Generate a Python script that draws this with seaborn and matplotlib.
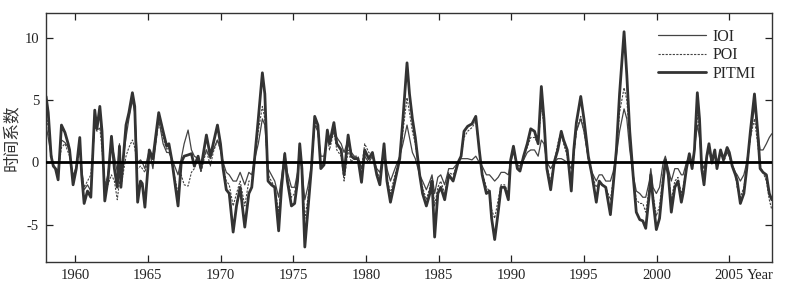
import numpy as np
import pandas as pd
import matplotlib
matplotlib.use('Agg')
import matplotlib.pyplot as plt
import seaborn as sns

# time axis (decimal years) and the three time-coefficient series
years = [1958.0, 1958.15, 1958.35, 1958.5, 1958.65, 1958.83, 1959.06, 1959.3, 1959.52, 1959.62,
         1959.86, 1960.08, 1960.32, 1960.45, 1960.62, 1960.85, 1961.08, 1961.35, 1961.5, 1961.7,
         1961.85, 1962.04, 1962.25, 1962.5, 1962.7, 1962.9, 1963.05, 1963.15, 1963.5, 1963.7,
         1963.94, 1964.1, 1964.3, 1964.5, 1964.62, 1964.8, 1965.0, 1965.1, 1965.35, 1965.75,
         1966.05, 1966.3, 1966.45, 1966.65, 1967.08, 1967.3, 1967.5, 1967.77, 1968.0, 1968.2,
         1968.46, 1968.65, 1969.03, 1969.3, 1969.5, 1969.79, 1970.0, 1970.18, 1970.4, 1970.6,
         1970.87, 1971.1, 1971.35, 1971.67, 1971.95, 1972.15, 1972.36, 1972.6, 1972.88, 1973.05,
         1973.27, 1973.5, 1973.73, 1974.0, 1974.2, 1974.42, 1974.6, 1974.88, 1975.1, 1975.3,
         1975.45, 1975.6, 1975.8, 1976.0, 1976.25, 1976.48, 1976.7, 1976.9, 1977.12, 1977.35,
         1977.5, 1977.8, 1978.0, 1978.3, 1978.5, 1978.78, 1979.0, 1979.2, 1979.46, 1979.7,
         1979.92, 1980.2, 1980.45, 1980.75, 1980.96, 1981.25, 1981.45, 1981.69, 1982.0, 1982.33,
         1982.55, 1982.83, 1983.0, 1983.2, 1983.4, 1983.7, 1983.9, 1984.16, 1984.4, 1984.55,
         1984.73, 1984.95, 1985.15, 1985.42, 1985.7, 1986.0, 1986.34, 1986.55, 1986.75, 1987.0,
         1987.3, 1987.56, 1987.8, 1988.0, 1988.29, 1988.5, 1988.65, 1988.86, 1989.1, 1989.3,
         1989.55, 1989.8, 1989.96, 1990.15, 1990.42, 1990.6, 1990.85, 1991.1, 1991.34, 1991.6,
         1991.85, 1992.07, 1992.25, 1992.45, 1992.71, 1992.95, 1993.2, 1993.44, 1993.6, 1993.85,
         1994.13, 1994.3, 1994.48, 1994.78, 1995.0, 1995.3, 1995.55, 1995.85, 1996.05, 1996.25,
         1996.5, 1996.82, 1997.0, 1997.23, 1997.45, 1997.76, 1997.95, 1998.15, 1998.38, 1998.6,
         1998.84, 1999.05, 1999.25, 1999.5, 1999.6, 1999.75, 1999.98, 2000.2, 2000.45, 2000.6,
         2000.8, 2001.01, 2001.25, 2001.47, 2001.7, 2001.82, 2002.05, 2002.25, 2002.44, 2002.6,
         2002.8, 2002.95, 2003.1, 2003.26, 2003.45, 2003.6, 2003.8, 2004.0, 2004.15, 2004.4,
         2004.6, 2004.85, 2005.0, 2005.2, 2005.42, 2005.54, 2005.76, 2006.0, 2006.2, 2006.45,
         2006.73, 2006.95, 2007.12, 2007.32, 2007.55, 2007.75, 2007.92]

pitmi = [5.3, 4.0, 0.5, -0.3, -0.5, -1.4, 3.0, 2.4, 1.5, 1.0,
         -1.8, -0.5, 2.0, -1.0, -3.3, -2.3, -2.8, 4.2, 2.7, 4.5,
         2.5, -3.1, -1.5, 2.1, -0.5, -2.0, 1.3, -2.0, 3.0, 4.0,
         5.6, 4.5, -3.2, -1.5, -1.7, -3.6, -0.5, 1.0, 0.3, 4.0,
         2.5, 1.3, 1.5, 0.2, -3.5, 0.0, 0.5, 0.6, 0.7, -0.3,
         0.5, -0.5, 2.2, 0.5, 1.5, 3.0, 1.5, -0.5, -2.2, -2.5,
         -5.6, -3.5, -2.0, -5.2, -2.5, -2.0, 0.5, 3.5, 7.2, 5.5,
         -1.5, -1.8, -2.0, -5.5, -2.0, 0.7, -1.5, -3.5, -3.3, -1.5,
         1.5, -0.5, -6.8, -4.0, -0.5, 3.7, 3.0, -0.5, -0.2, 2.6,
         1.5, 3.2, 1.5, 1.0, -1.0, 2.2, 0.5, 0.3, 0.3, -1.6,
         1.0, 0.3, 0.8, -1.0, -1.8, 1.5, -1.5, -3.2, -1.5, 0.3,
         3.5, 8.0, 5.5, 3.5, 2.0, -1.0, -2.5, -3.5, -2.5, -1.5,
         -6.0, -2.5, -2.0, -3.0, -1.0, -1.5, 0.0, 0.5, 2.5, 2.9,
         3.1, 3.7, 1.0, -1.0, -2.5, -2.3, -4.5, -6.2, -4.0, -2.0,
         -2.0, -3.0, 0.2, 1.3, -0.5, -0.7, 0.5, 1.5, 2.7, 2.5,
         1.5, 6.1, 3.5, -0.5, -2.2, 0.0, 1.0, 2.5, 1.8, 1.0,
         -2.3, 1.0, 3.2, 5.3, 3.5, 0.5, -1.0, -3.2, -1.5, -1.8,
         -2.0, -4.2, -2.0, 1.0, 5.5, 10.5, 7.0, 2.5, -1.0, -4.0,
         -4.6, -4.7, -5.3, -2.5, -1.0, -3.0, -5.4, -4.5, -1.5, 0.2,
         -1.0, -4.0, -2.0, -1.5, -3.2, -2.5, -0.5, 0.7, -0.5, 1.0,
         5.6, 3.5, -0.5, -1.8, 0.5, 1.5, 0.0, 1.0, -0.5, 1.0,
         0.2, 1.2, 0.8, -0.3, -1.0, -1.5, -3.3, -2.5, -0.5, 2.5,
         5.5, 2.5, -0.5, -0.8, -1.0, -2.5, -3.0]

ioi = [3.0, 2.0, 0.5, -0.2, -0.5, -0.6, 1.8, 1.6, 1.2, 0.8,
       -1.2, -0.3, 1.5, -0.5, -2.2, -1.8, -2.3, 3.5, 2.8, 3.8,
       1.5, -2.0, -1.0, 1.5, 0.5, -0.8, 1.5, -1.0, 2.0, 3.5,
       5.0, 4.0, 0.0, 0.2, 0.0, -0.5, 0.5, 1.0, -0.5, 3.5,
       1.5, 0.8, 0.8, 0.3, -1.0, 0.3, 1.5, 2.6, 1.0, 0.5,
       0.3, -0.3, 1.0, 0.3, 1.0, 1.8, 1.0, 0.0, -0.8, -1.0,
       -1.5, -1.5, -0.8, -1.8, -0.8, -1.0, 0.3, 1.5, 3.5, 3.0,
       -0.5, -1.0, -1.5, -2.8, -1.2, 0.8, -0.8, -2.0, -2.0, -0.8,
       1.5, -0.5, -3.0, -2.0, -0.3, 3.0, 2.5, 0.5, 0.5, 2.0,
       1.5, 2.5, 2.0, 1.5, 0.8, 1.8, 0.8, 0.5, 0.3, -0.5,
       0.5, 0.0, 0.5, -0.5, -0.8, 1.0, -0.5, -1.5, -0.5, 0.5,
       1.5, 3.0, 2.0, 0.8, 0.3, -1.0, -1.5, -2.2, -1.5, -1.0,
       -2.5, -1.2, -1.0, -1.8, -0.5, -0.5, 0.0, 0.3, 0.3, 0.3,
       0.2, 0.5, 0.0, -0.3, -1.0, -1.0, -1.2, -1.5, -1.2, -0.8,
       -0.8, -1.0, 0.0, 0.8, -0.2, -0.3, 0.2, 0.8, 1.0, 1.0,
       0.5, 1.8, 1.5, 0.0, -0.5, 0.0, 0.3, 0.3, 0.2, 0.0,
       -0.5, 0.8, 2.5, 3.5, 2.5, 0.3, -0.8, -1.5, -1.0, -1.0,
       -1.5, -1.5, -0.8, 0.5, 2.5, 4.3, 3.5, 1.0, -1.0, -2.3,
       -2.5, -2.8, -2.8, -1.5, -0.5, -2.0, -2.5, -2.0, 0.0, 0.5,
       -0.5, -1.5, -0.5, -0.5, -1.0, -1.0, 0.0, 0.5, 0.0, 1.0,
       3.0, 2.0, 0.0, -0.5, 0.5, 1.0, 0.3, 0.8, 0.0, 0.8,
       0.3, 0.8, 0.5, -0.2, -0.8, -1.0, -1.5, -1.0, 0.0, 2.0,
       4.5, 2.5, 1.0, 1.0, 1.5, 2.0, 2.3]

poi = [4.0, 2.8, 0.8, -0.2, -0.6, -0.8, 1.2, 1.5, 0.8, 0.5,
       -1.0, -0.5, 1.0, -0.8, -2.0, -1.5, -1.0, 2.8, 2.5, 2.8,
       1.0, -1.5, -1.8, -1.0, -1.5, -3.0, -1.5, -2.0, 0.5, 1.2,
       1.8, 1.2, -0.5, -0.3, -0.5, -0.8, 0.2, 0.8, 0.0, 3.2,
       2.0, 1.0, 1.2, 0.0, -2.5, -1.0, -1.8, -1.9, -0.8, -0.5,
       0.5, -0.8, 1.0, -0.3, 0.8, 1.8, 1.0, -0.3, -1.5, -1.8,
       -3.5, -2.5, -1.5, -3.5, -1.5, -1.5, 0.5, 2.5, 4.5, 3.5,
       -1.0, -1.5, -2.0, -4.0, -1.5, 0.5, -1.2, -2.8, -2.5, -1.0,
       1.0, -1.0, -4.5, -3.0, -0.5, 3.3, 2.5, -0.3, 0.0, 2.0,
       1.0, 2.5, 1.0, 0.5, -1.5, 1.0, 0.0, 0.5, 0.5, -0.5,
       1.5, 0.8, 0.5, -0.8, -1.2, 1.0, -1.2, -2.5, -1.0, 0.3,
       2.5, 5.2, 4.0, 2.5, 1.5, -1.0, -2.0, -3.0, -2.0, -1.2,
       -3.5, -2.0, -1.5, -2.5, -0.8, -1.0, 0.0, 0.5, 2.0, 2.5,
       2.8, 3.3, 1.0, -0.8, -2.0, -2.3, -3.8, -4.5, -3.0, -1.8,
       -1.8, -2.5, 0.2, 1.0, -0.3, -0.5, 0.5, 1.2, 2.0, 2.0,
       1.5, 4.5, 3.0, -0.3, -1.5, 0.0, 1.5, 2.5, 1.5, 0.5,
       -1.5, 0.5, 2.5, 3.7, 2.5, 0.3, -1.0, -2.0, -1.5, -1.8,
       -2.0, -3.0, -1.5, 0.8, 4.0, 6.0, 5.0, 2.0, -1.0, -3.0,
       -3.3, -3.3, -4.0, -2.0, -1.0, -2.5, -4.3, -3.5, -1.0, 0.0,
       -0.8, -3.0, -1.5, -1.2, -2.5, -2.0, -0.3, 0.5, -0.5, 1.0,
       3.8, 2.5, -0.3, -1.0, 0.3, 1.0, -0.2, 0.8, -0.3, 0.8,
       0.0, 0.8, 0.5, -0.3, -1.0, -2.0, -2.8, -2.0, -0.5, 2.0,
       3.5, 1.5, -0.3, -0.8, -1.5, -3.0, -3.8]

df = pd.DataFrame({'year': years, 'IOI': ioi, 'POI': poi, 'PITMI': pitmi})

sns.set_style('ticks')
plt.rcParams['font.family'] = ['Liberation Serif', 'Noto Sans CJK SC']
plt.rcParams['xtick.direction'] = 'in'
plt.rcParams['ytick.direction'] = 'in'
plt.rcParams['axes.unicode_minus'] = False

fig = plt.figure(figsize=(7.94, 2.97), dpi=100)
ax = fig.add_axes([0.058, 0.118, 0.914, 0.838])

sns.lineplot(data=df, x='year', y='IOI', ax=ax, color='#444444', lw=0.9, label='IOI')
sns.lineplot(data=df, x='year', y='POI', ax=ax, color='#444444', lw=0.8, label='POI',
             linestyle=(0, (2.0, 1.2)))
sns.lineplot(data=df, x='year', y='PITMI', ax=ax, color='#333333', lw=2.0, label='PITMI')
ax.axhline(0, color='black', lw=2.0, zorder=5)

ax.set_xlim(1958.0, 2007.92)
ax.set_ylim(-8, 12)
ax.set_xticks(np.arange(1960, 2006, 5))
ax.set_yticks([-5, 0, 5, 10])
ax.tick_params(top=True, right=True, length=5, width=0.9, labelsize=10.5, pad=5, colors='#222222')
for s in ax.spines.values():
    s.set_linewidth(1.0)
    s.set_color('#333333')

ax.set_xlabel('')
ax.set_ylabel('时间系数', fontsize=12, labelpad=3, color='#333333')
ax.annotate('Year', xy=(0.9656, 0), xycoords='axes fraction', xytext=(0, -5),
            textcoords='offset points', ha='left', va='top', fontsize=10.5, color='#222222')

ax.legend(loc='upper right', frameon=False, fontsize=11.5, handlelength=3.0,
          handletextpad=0.4, labelspacing=0.15, borderaxespad=0.6)

fig.savefig('out.png', dpi=100)
